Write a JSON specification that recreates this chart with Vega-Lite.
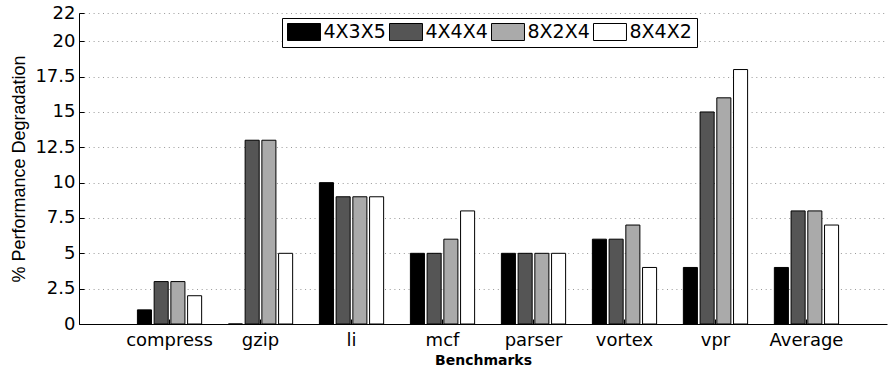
{
  "$schema": "https://vega.github.io/schema/vega-lite/v6.json",
  "width": 808,
  "height": 311,
  "autosize": {"type": "none"},
  "padding": {"left": 79, "top": 13, "right": 1, "bottom": 49},
  "background": "white",
  "config": {"view": {"stroke": null}, "font": "DejaVu Sans"},
  "data": {
    "values": [
      {"benchmark": "compress", "config": "4X3X5", "value": 1},
      {"benchmark": "compress", "config": "4X4X4", "value": 3},
      {"benchmark": "compress", "config": "8X2X4", "value": 3},
      {"benchmark": "compress", "config": "8X4X2", "value": 2},
      {"benchmark": "gzip", "config": "4X3X5", "value": 0},
      {"benchmark": "gzip", "config": "4X4X4", "value": 13},
      {"benchmark": "gzip", "config": "8X2X4", "value": 13},
      {"benchmark": "gzip", "config": "8X4X2", "value": 5},
      {"benchmark": "li", "config": "4X3X5", "value": 10},
      {"benchmark": "li", "config": "4X4X4", "value": 9},
      {"benchmark": "li", "config": "8X2X4", "value": 9},
      {"benchmark": "li", "config": "8X4X2", "value": 9},
      {"benchmark": "mcf", "config": "4X3X5", "value": 5},
      {"benchmark": "mcf", "config": "4X4X4", "value": 5},
      {"benchmark": "mcf", "config": "8X2X4", "value": 6},
      {"benchmark": "mcf", "config": "8X4X2", "value": 8},
      {"benchmark": "parser", "config": "4X3X5", "value": 5},
      {"benchmark": "parser", "config": "4X4X4", "value": 5},
      {"benchmark": "parser", "config": "8X2X4", "value": 5},
      {"benchmark": "parser", "config": "8X4X2", "value": 5},
      {"benchmark": "vortex", "config": "4X3X5", "value": 6},
      {"benchmark": "vortex", "config": "4X4X4", "value": 6},
      {"benchmark": "vortex", "config": "8X2X4", "value": 7},
      {"benchmark": "vortex", "config": "8X4X2", "value": 4},
      {"benchmark": "vpr", "config": "4X3X5", "value": 4},
      {"benchmark": "vpr", "config": "4X4X4", "value": 15},
      {"benchmark": "vpr", "config": "8X2X4", "value": 16},
      {"benchmark": "vpr", "config": "8X4X2", "value": 18},
      {"benchmark": "Average", "config": "4X3X5", "value": 4},
      {"benchmark": "Average", "config": "4X4X4", "value": 8},
      {"benchmark": "Average", "config": "8X2X4", "value": 8},
      {"benchmark": "Average", "config": "8X4X2", "value": 7}
    ]
  },
  "mark": {"type": "bar", "stroke": "black", "strokeWidth": 1},
  "encoding": {
    "x": {
      "field": "benchmark",
      "type": "nominal",
      "sort": null,
      "scale": {
        "domain": ["compress", "gzip", "li", "mcf", "parser", "vortex", "vpr", "Average"],
        "paddingInner": 0,
        "paddingOuter": 0.44,
        "align": 0.5625
      },
      "axis": {
        "title": "Benchmarks",
        "labelAngle": 0,
        "labelFont": "DejaVu Sans",
        "labelFontSize": 18,
        "labelColor": "black",
        "labelBaseline": "alphabetic",
        "tickSize": -5,
        "labelPadding": 26,
        "tickColor": "black",
        "domainColor": "black",
        "domainWidth": 1,
        "titleFont": "DejaVu Sans",
        "titleFontSize": 14,
        "titleFontWeight": "bold",
        "titleColor": "black",
        "titlePadding": 4,
        "grid": false,
        "zindex": 0
      }
    },
    "xOffset": {
      "field": "config",
      "type": "nominal",
      "sort": null,
      "scale": {"paddingInner": 0.16, "paddingOuter": 0.8}
    },
    "y": {
      "field": "value",
      "type": "quantitative",
      "scale": {"domain": [0, 22], "nice": false, "zero": true},
      "axis": {
        "title": "% Performance Degradation",
        "values": [0, 2.5, 5, 7.5, 10, 12.5, 15, 17.5, 20, 22],
        "labelExpr": "'' + datum.value",
        "labelFont": "DejaVu Sans",
        "labelFontSize": 18,
        "labelColor": "black",
        "tickSize": -5,
        "labelPadding": 9,
        "tickColor": "black",
        "domainColor": "black",
        "grid": true,
        "gridColor": "#999999",
        "gridDash": [1, 3.7],
        "gridWidth": 1,
        "titleFont": "Liberation Sans",
        "titleFontSize": 18,
        "titleFontWeight": "normal",
        "titleColor": "black",
        "titlePadding": 6,
        "zindex": 0
      }
    },
    "color": {
      "field": "config",
      "type": "nominal",
      "scale": {
        "domain": ["4X3X5", "4X4X4", "8X2X4", "8X4X2"],
        "range": ["#000000", "#555555", "#aaaaaa", "#ffffff"]
      },
      "legend": {
        "orient": "none",
        "legendX": 203,
        "legendY": 5,
        "direction": "horizontal",
        "title": null,
        "symbolType": "M-1,-1H2.88V1H-1Z",
        "symbolSize": 289,
        "symbolStrokeColor": "black",
        "symbolStrokeWidth": 1,
        "symbolOpacity": 1,
        "labelFont": "DejaVu Sans",
        "labelFontSize": 19,
        "labelColor": "black",
        "labelOffset": 18,
        "columnPadding": 1,
        "padding": 4.5,
        "strokeColor": "black",
        "fillColor": "white"
      }
    }
  }
}
